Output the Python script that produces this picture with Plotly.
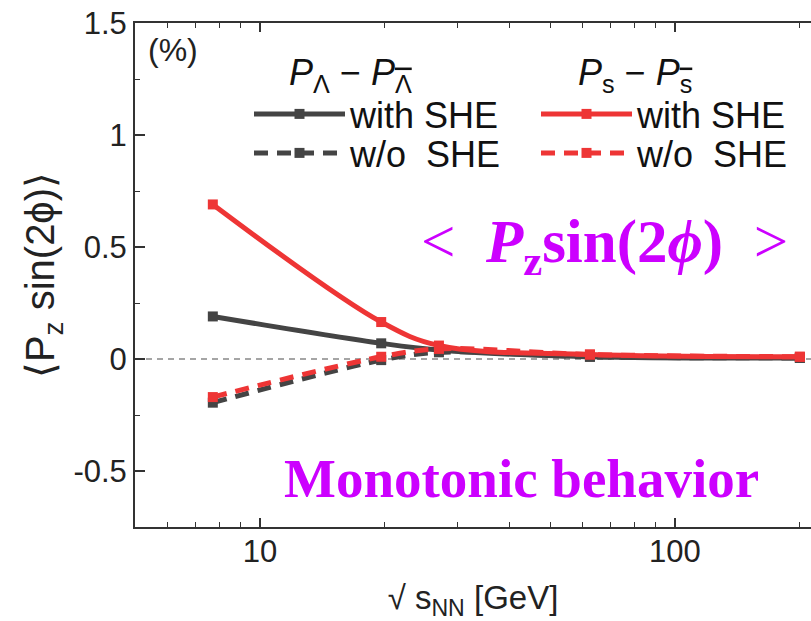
import plotly.graph_objects as go
import numpy as np

# Data
energies = [7.7, 19.6, 27, 62.4, 200]          # sqrt(s_NN) [GeV]
lam_with = [0.19, 0.07, 0.04, 0.01, 0.005]      # P_Lambda - P_antiLambda, with SHE
lam_wo = [-0.195, -0.005, 0.03, 0.01, 0.005]    # P_Lambda - P_antiLambda, w/o SHE
s_with = [0.69, 0.165, 0.06, 0.02, 0.01]        # P_s - P_sbar, with SHE
s_wo = [-0.17, 0.01, 0.045, 0.02, 0.01]         # P_s - P_sbar, w/o SHE

BLACK = "#444444"
RED = "#EE3535"
MAG = "#CC00FF"
FONT = "Arial, Liberation Sans, sans-serif"
SERIF = "Liberation Serif, Times New Roman, serif"

fig = go.Figure()

def add(y, color, dash, name, legend):
    fig.add_trace(go.Scatter(
        x=energies, y=y, mode="lines+markers", name=name, legend=legend,
        line=dict(color=color, width=5, dash=dash, shape="spline"),
        marker=dict(symbol="square", size=10, color=color),
    ))

add(lam_with, BLACK, "solid", "with SHE", "legend")
add(lam_wo, BLACK, "14px,9px", "w/o  SHE", "legend2")
add(s_with, RED, "solid", "with SHE", "legend3")
add(s_wo, RED, "14px,9px", "w/o  SHE", "legend4")

L, T, W, H = 135, 23, 676, 504
def px(x):
    return (x - L) / W
def py(y):
    return 1 - (y - T) / H

def leg(xp, yp):
    return dict(x=px(xp), y=py(yp), xanchor="left", yanchor="middle",
                font=dict(family=FONT, size=36, color="#111"), bgcolor="rgba(0,0,0,0)",
                itemwidth=91, tracegroupgap=0)

fig.update_layout(
    width=811, height=621,
    margin=dict(l=L, r=0, t=T, b=621 - T - H),
    paper_bgcolor="white", plot_bgcolor="white",
    font=dict(family=FONT, size=31, color="#222"),
    showlegend=True,
    legend=leg(249, 114),
    legend2=leg(249, 153),
    legend3=leg(536, 114),
    legend4=leg(536, 153),
    xaxis=dict(
        type="log", range=[np.log10(5), np.log10(5) + W / 415.0],
        showline=True, linecolor="#333", linewidth=2, mirror="ticks",
        ticks="inside", ticklen=9, tickwidth=1.5, tickcolor="#333",
        tickvals=[10, 100], ticktext=["10", "100"],
        minor=dict(ticks="inside", ticklen=5, tickwidth=1.2, tickcolor="#333",
                   tickvals=[5, 6, 7, 8, 9, 20, 30, 40, 50, 60, 70, 80, 90, 200], showgrid=False),
        showgrid=False, zeroline=False,
        tickfont=dict(size=31, color="#222"),
        ticklabelstandoff=-4,
        title=dict(text="√ s<sub>NN</sub> [GeV]", font=dict(size=33, color="#222"), standoff=30),
    ),
    yaxis=dict(
        range=[-0.75, 1.5],
        showline=True, linecolor="#333", linewidth=2,
        ticks="inside", ticklen=10, tickwidth=1.5, tickcolor="#333",
        tickvals=[-0.5, 0, 0.5, 1, 1.5], ticktext=["-0.5", "0", "0.5", "1", "1.5"],
        minor=dict(ticks="inside", ticklen=5, tickwidth=1.2, tickcolor="#333",
                   tickvals=[-0.75, -0.25, 0.25, 0.75, 1.25], showgrid=False),
        showgrid=False, zeroline=False,
        tickfont=dict(size=31, color="#222"),
        title=dict(text="⟨P<sub>z</sub> sin(2ϕ)⟩", font=dict(size=40, color="#222"), standoff=6),
    ),
)

# dashed zero reference line
fig.add_shape(type="line", xref="paper", yref="y", x0=0, x1=1, y0=0, y1=0,
              line=dict(color="#888888", width=1.5, dash="6px,5px"), layer="below")

OV = '<span style="text-decoration:overline">{}</span>'
ann = []
ann.append(dict(text="(%)", x=px(146), y=py(50), xanchor="left", yanchor="middle",
                font=dict(size=32, color="#222")))
ann.append(dict(text="<i>P</i><sub>Λ</sub> − <i>P</i><sub>" + OV.format("Λ") + "</sub>", x=px(350), y=py(75),
                xanchor="center", yanchor="middle", font=dict(size=36, color="#111")))
ann.append(dict(text="<i>P</i><sub>s</sub> − <i>P</i><sub>" + OV.format("s") + "</sub>", x=px(635), y=py(75),
                xanchor="center", yanchor="middle", font=dict(size=36, color="#111")))
ann.append(dict(text="&lt;  <b><i>P</i><sub>z</sub>sin(2<i>ϕ</i>)</b>  &gt;", x=px(419), y=py(246),
                xanchor="left", yanchor="middle",
                font=dict(family=SERIF, size=61, color=MAG)))
ann.append(dict(text="<b>Monotonic behavior</b>", x=px(521), y=py(478),
                xanchor="center", yanchor="middle",
                font=dict(family=SERIF, size=55, color=MAG)))
for a in ann:
    a.update(xref="paper", yref="paper", showarrow=False)
fig.update_layout(annotations=ann)

fig.write_html("out.html")
